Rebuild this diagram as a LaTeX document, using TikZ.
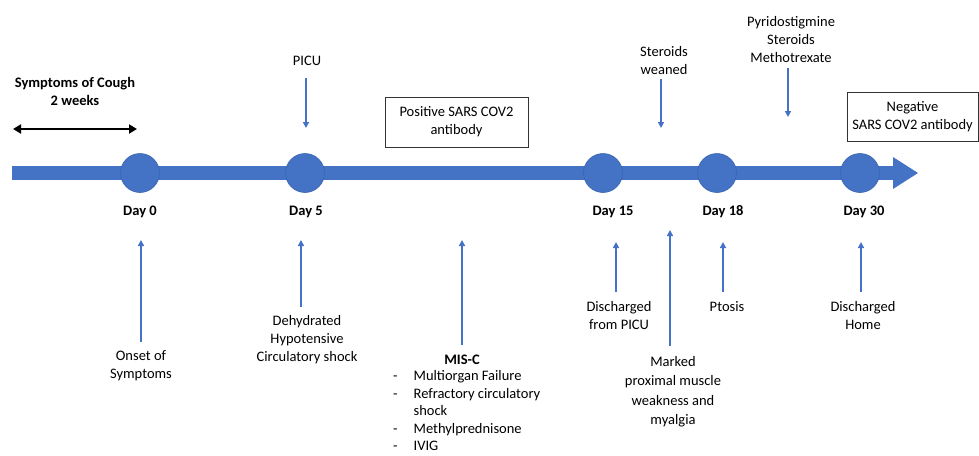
\documentclass[tikz,border=0pt]{standalone}
\usepackage{fontspec}
\setmainfont{Carlito}
\usetikzlibrary{arrows.meta}
\definecolor{tlblue}{HTML}{4472C4}
\definecolor{tledge}{HTML}{3A64B0}
\begin{document}
\begin{tikzpicture}[x=1pt,y=-1pt,
  lbl/.style={font=\fontsize{14.5}{18}\selectfont, align=center, inner sep=0pt},
  daylbl/.style={font=\fontsize{14.5}{18}\selectfont\bfseries, align=center, inner sep=0pt},
  dot/.style={circle, fill=tlblue, draw=tledge, line width=0.6pt, minimum size=39pt, inner sep=0pt},
  evar/.style={draw=tlblue, line width=1.5pt, -{Triangle[width=6pt,length=6pt]}},
  infobox/.style={draw=black!80, line width=0.9pt, font=\fontsize{14.5}{18}\selectfont, align=center, inner sep=0pt}]
\useasboundingbox (0,0) rectangle (979,455);

% timeline bar
\fill[tlblue] (12,166) rectangle (895,180);
\fill[tlblue] (893,157) -- (918,173) -- (893,189) -- cycle;

% day dots
\node[dot] (d0) at (140,173) {};
\node[dot] (d5) at (305,173) {};
\node[dot] (d15) at (603,173) {};
\node[dot] (d18) at (717,173) {};
\node[dot] (d30) at (860,173) {};

% day labels
\node[daylbl] (l0) at (140,212) {Day 0};
\node[daylbl] (l5) at (306,212) {Day 5};
\node[daylbl] (l15) at (613,212) {Day 15};
\node[daylbl] (l18) at (723,212) {Day 18};
\node[daylbl] (l30) at (864,212) {Day 30};

% top: cough
\node[daylbl] (cough) at (75,91) {Symptoms of Cough\\2 weeks};
\coordinate (cl) at (13,129);
\coordinate (cr) at (137,129);
\draw[line width=2.6pt, {Triangle[width=9pt,length=8pt]}-{Triangle[width=9pt,length=8pt]}] (cl) -- (cr);

% top: PICU
\node[lbl] (picu) at (307,61) {PICU};
\coordinate (picuA) at (306,78);
\coordinate (picuB) at (306,128);
\draw[evar] (picuA) -- (picuB);

% positive box
\node[infobox, minimum width=143pt, minimum height=50pt] (pos) at (456.5,122) {Positive SARS COV2\\antibody};

% steroids weaned
\node[lbl] (sw) at (664,61) {Steroids\\weaned};
\coordinate (swA) at (661,79);
\coordinate (swB) at (661,128);
\draw[evar] (swA) -- (swB);

% pyridostigmine
\node[lbl] (pyr) at (791,39.5) {Pyridostigmine\\Steroids\\Methotrexate};
\coordinate (pyrA) at (788,68);
\coordinate (pyrB) at (788,117);
\draw[evar] (pyrA) -- (pyrB);

% negative box
\node[infobox, minimum width=131pt, minimum height=49pt] (neg) at (912.5,116.5) {Negative\\SARS COV2 antibody};

% bottom: onset
\node[lbl] (onset) at (141,366) {Onset of\\Symptoms};
\coordinate (onA) at (141,342);
\coordinate (onB) at (141,240);
\draw[evar] (onA) -- (onB);

% dehydrated
\node[lbl] (dehy) at (307,340) {Dehydrated\\Hypotensive\\Circulatory shock};
\coordinate (deA) at (301,307);
\coordinate (deB) at (301,240);
\draw[evar] (deA) -- (deB);

% MIS-C
\node[daylbl] (misc) at (462,360) {MIS-C};
\node[font=\fontsize{14.5}{17.5}\selectfont, inner sep=0pt, anchor=west] (misclist) at (393,412)
  {\begin{tabular}{@{}l@{\hspace{16pt}}l@{}}
   - & Multiorgan Failure\\
   - & Refractory circulatory\\
     & shock\\
   - & Methylprednisone\\
   - & IVIG
   \end{tabular}};
\coordinate (miA) at (462,345);
\coordinate (miB) at (462,240);
\draw[evar] (miA) -- (miB);

% discharged from PICU
\node[lbl] (dpicu) at (619,315.5) {Discharged\\from PICU};
\coordinate (dpA) at (616,292);
\coordinate (dpB) at (616,242);
\draw[evar] (dpA) -- (dpB);

% marked weakness
\node[font=\fontsize{14.5}{19.5}\selectfont, align=center, inner sep=0pt] (weak) at (673,391.5) {Marked\\proximal muscle\\weakness and\\myalgia};
\coordinate (wkA) at (670,346);
\coordinate (wkB) at (670,230);
\draw[evar] (wkA) -- (wkB);

% ptosis
\node[lbl] (ptosis) at (727,307) {Ptosis};
\coordinate (ptA) at (723,292);
\coordinate (ptB) at (723,242);
\draw[evar] (ptA) -- (ptB);

% discharged home
\node[lbl] (dhome) at (863,315.5) {Discharged\\Home};
\coordinate (dhA) at (861,292);
\coordinate (dhB) at (861,242);
\draw[evar] (dhA) -- (dhB);
\end{tikzpicture}
\end{document}
